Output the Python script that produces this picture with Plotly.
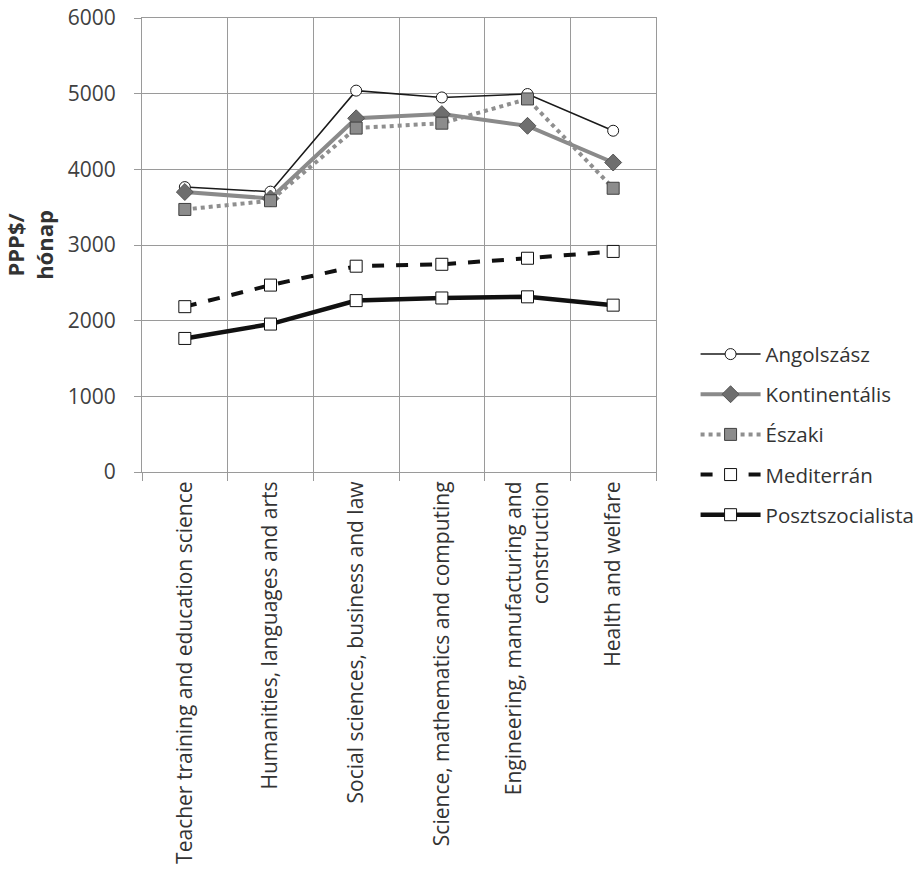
import plotly.graph_objects as go

categories = [
    "Teacher training and education science",
    "Humanities, languages and arts",
    "Social sciences, business and law",
    "Science, mathematics and computing",
    "Engineering, manufacturing and<br>construction",
    "Health and welfare",
]
angolszasz = [3765, 3705, 5040, 4950, 4995, 4510]
kontinentalis = [3700, 3615, 4675, 4730, 4575, 4090]
eszaki = [3470, 3585, 4545, 4610, 4930, 3750]
mediterran = [2185, 2470, 2720, 2745, 2825, 2915]
posztszocialista = [1765, 1955, 2265, 2300, 2315, 2205]
yticks = [0, 1000, 2000, 3000, 4000, 5000, 6000]

FONT = "Open Sans"
fig = go.Figure()

fig.add_trace(go.Scatter(
    x=categories, y=angolszasz, name="Angolszász", mode="lines+markers", legendgroup="a",
    line=dict(color="#1a1a1a", width=1.5),
    marker=dict(symbol="circle", size=11, color="white", line=dict(color="#1a1a1a", width=1)),
))
fig.add_trace(go.Scatter(
    x=categories, y=kontinentalis, name="Kontinentális", mode="lines+markers", legendgroup="b",
    line=dict(color="#8a8a8a", width=4),
    marker=dict(symbol="diamond", size=13, color="#6e6e6e", line=dict(color="#555555", width=1)),
))
fig.add_trace(go.Scatter(
    x=categories, y=eszaki, name="Északi", mode="lines+markers", legendgroup="c",
    line=dict(color="#8f8f8f", width=4, dash="dot"),
    marker=dict(symbol="square", size=12, color="#8c8c8c", line=dict(color="#404040", width=1)),
))
fig.add_trace(go.Scatter(
    x=categories, y=mediterran, name="Mediterrán", mode="lines+markers", legendgroup="d",
    line=dict(color="#111111", width=4, dash="dash"),
    marker=dict(symbol="square", size=12, color="white", line=dict(color="#111111", width=1)),
))
fig.add_trace(go.Scatter(
    x=categories, y=posztszocialista, name="Posztszocialista", mode="lines+markers", legendgroup="e",
    line=dict(color="#111111", width=4.5),
    marker=dict(symbol="square", size=12, color="white", line=dict(color="#111111", width=1)),
))

fig.update_layout(
    width=918, height=874,
    margin=dict(l=142, r=262, t=18, b=402, autoexpand=False),
    paper_bgcolor="white", plot_bgcolor="white",
    font=dict(family=FONT, size=21, color="#404040"),
    showlegend=True,
    legend=dict(
        x=1.077, xanchor="left", y=0.082, yanchor="middle",
        font=dict(family=FONT, size=20.5, color="#333333"),
        tracegroupgap=10.5, itemsizing="trace", itemwidth=60, bgcolor="rgba(0,0,0,0)",
    ),
    xaxis=dict(
        type="category", tickson="boundaries", showgrid=True, automargin=False,
        gridcolor="#9a9a9a", gridwidth=1,
        ticks="outside", ticklen=8, tickcolor="#9a9a9a",
        tickangle=-90, showline=True, linecolor="#9a9a9a", mirror=True,
        tickfont=dict(family=FONT, size=21, color="#333333"),
        range=[-0.5, 5.5],
    ),
    yaxis=dict(
        range=[0, 6000], tickvals=yticks, ticktext=[str(v) for v in yticks], automargin=False,
        showgrid=True, gridcolor="#9a9a9a", gridwidth=1, ticklabeloverflow="allow",
        ticks="outside", ticklen=7, tickcolor="#9a9a9a", ticklabelstandoff=14,
        showline=True, linecolor="#9a9a9a", mirror=True, zeroline=False,
        tickfont=dict(family=FONT, size=21, color="#404040"),
        title=dict(text="<b>PPP$/<br>hónap</b>", font=dict(family=FONT, size=22, color="#333333"), standoff=12),
    ),
)

fig.write_html("out.html", config={"displayModeBar": False},
               post_script="document.body.style.margin='0';")
